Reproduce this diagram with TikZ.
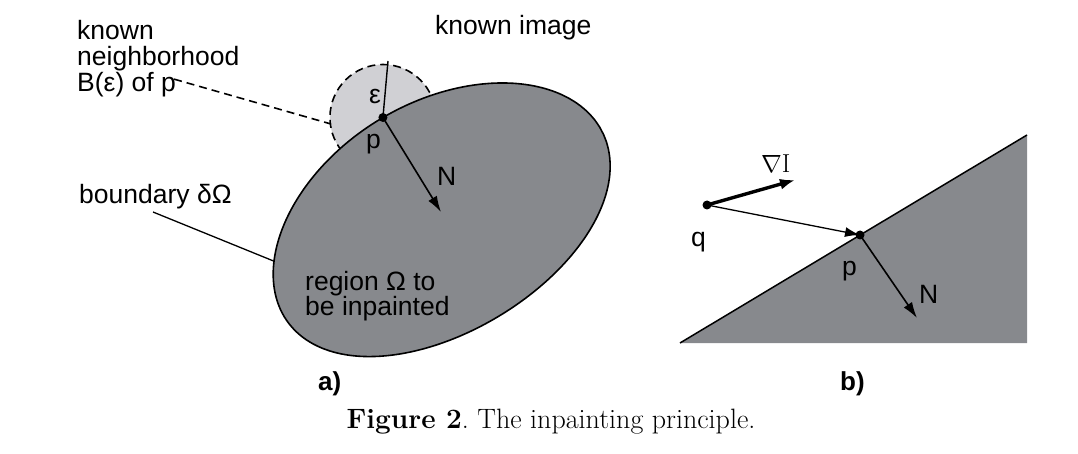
\documentclass[tikz,border=0pt]{standalone}
\usepackage{fontspec}
\setsansfont{Liberation Sans}
\usetikzlibrary{arrows.meta}
\definecolor{regiongray}{RGB}{135,137,141}
\definecolor{knowngray}{RGB}{208,208,212}
\begin{document}
\begin{tikzpicture}[x=1pt,y=-1pt,
  lbl/.style={font=\sffamily\fontsize{26.5}{28}\selectfont, inner sep=0pt, anchor=base west},
  tag/.style={font=\sffamily\bfseries\fontsize{26}{28}\selectfont, inner sep=0pt, anchor=base west},
  outline/.style={draw=black, line width=1.6pt},
  normal/.style={line width=1.6pt, -{Latex[length=16pt,width=10pt]}},
  thinarrow/.style={line width=1.3pt, -{Latex[length=15pt,width=10pt]}},
  grad/.style={line width=3.4pt, -{Latex[length=15pt,width=11pt]}},
  dot/.style={circle, fill=black, inner sep=0pt, minimum size=9pt},
  dashline/.style={line width=1.6pt, dash pattern=on 8pt off 5pt}]
\useasboundingbox (0,0) rectangle (1078,454);

% ---------- panel a ----------
\begin{scope}[shift={(442,222)}, rotate=31]
  \coordinate (pa) at (3.2,-120);
\end{scope}
\coordinate (epstop) at (388,61);
\coordinate (bdend) at (276,262);
\coordinate (dashend) at (331,124);

% known neighbourhood circle
\draw[dashline, fill=knowngray] (pa) circle[radius=53];
% boundary label line
\node[lbl] (bdlbl) at (79,204) {boundary δΩ};
\draw[line width=1.3pt] (153,212) -- (bdend);
% region (egg-shaped ellipse)
\begin{scope}[shift={(442,222)}, rotate=31]
  \draw[outline, fill=regiongray] plot[domain=0:356, samples=90, smooth]
    ({184*cos(\x)}, {-sin(\x)*(115+5*sin(\x))}) -- cycle;
\end{scope}
\draw[line width=1.4pt] (pa) -- (epstop);
\node[dot] (pdot) at (pa) {};
\draw[normal] (pa) -- (441,212);

\node[lbl] (kn) at (77,40) {known};
\node[lbl] (nb) at (77,66) {neighborhood};
\node[lbl] (bp) at (77,92) {B(ε) of p};
\draw[dashline] (bp.east) ++(-2,-6) -- (dashend);
\node[lbl] (ki) at (435,35) {known image};
\node[lbl] (eps) at (369,104) {ε};
\node[lbl] (pla) at (366,149) {p};
\node[lbl] (na) at (437,186) {N};
\node[lbl] (r1) at (305,290) {region Ω to};
\node[lbl] (r2) at (305,315) {be inpainted};
\node[tag] (ta) at (318,390) {a)};

% ---------- panel b ----------
\coordinate (t1) at (680,343);
\coordinate (t2) at (1027,135);
\coordinate (t3) at (1027,343);
\fill[regiongray] (t1) -- (t2) -- (t3) -- cycle;
\draw[line width=1.5pt] (t1) -- (t2);
\coordinate (pb) at (860,235);
\node[dot] (qdot) at (707,205) {};
\draw[thinarrow] (qdot.center) -- (pb);
\draw[grad] (qdot.center) -- (795,180);
\node[dot] (pbdot) at (pb) {};
\draw[normal] (pb) -- (917,318);
\node[font=\fontsize{26}{28}\selectfont, inner sep=0pt, anchor=base west] (nab) at (761,173) {$\nabla\mathrm{I}$};
\node[lbl] (qlbl) at (691,247) {q};
\node[lbl] (plb) at (842,276) {p};
\node[lbl] (nlb) at (919,303) {N};
\node[tag] (tb) at (840,390) {b)};

% caption
\node[font=\fontsize{28}{30}\selectfont, inner sep=0pt, anchor=base] (cap) at (551,428) {\textbf{Figure 2}.\ The inpainting principle.};
\end{tikzpicture}
\end{document}
